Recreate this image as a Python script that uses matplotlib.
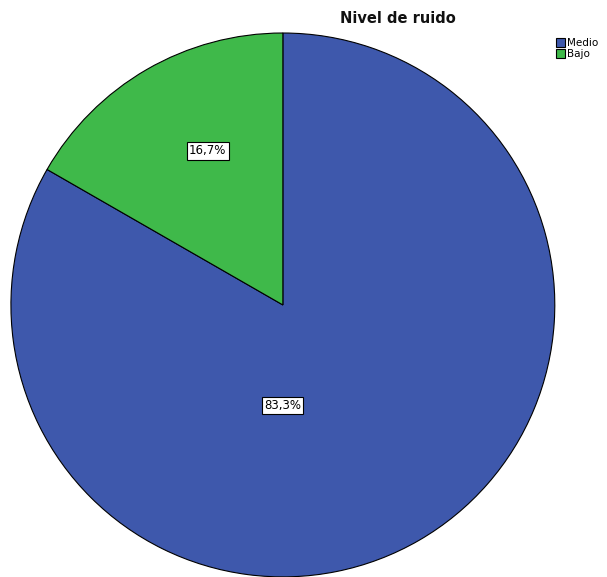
import numpy as np
import matplotlib.pyplot as plt

categorias = ["Medio", "Bajo"]
porcentajes = [83.3, 16.7]
etiquetas = ["83,3%", "16,7%"]
colores = ["#3e58ac", "#3fb94a"]

fig = plt.figure(figsize=(6.07, 5.77), dpi=100)
ax = fig.add_axes([0.018, 0.0, 0.896, 0.943])

wedges, _ = ax.pie(
    porcentajes, colors=colores, startangle=90, counterclock=False,
    radius=1.0, wedgeprops=dict(edgecolor="black", linewidth=0.8),
)
ax.set_xlim(-1, 1)
ax.set_ylim(-1, 1)
ax.set_aspect("equal")

# etiquetas dentro de cada sector
pos_label = [(270, 0.37), (116, 0.63)]
for txt, (ang, r) in zip(etiquetas, pos_label):
    a = np.deg2rad(ang)
    ax.text(r * np.cos(a), r * np.sin(a), txt, ha="center", va="center",
            fontsize=8.5, color="black",
            bbox=dict(facecolor="white", edgecolor="black", linewidth=0.8, pad=1.5))

fig.text(0.655, 0.968, "Nivel de ruido", ha="center", va="center",
         fontsize=10.5, fontweight="semibold", color="#111111")

fig.legend(wedges, categorias, loc="upper left", bbox_to_anchor=(0.905, 0.945),
           frameon=False, fontsize=7.5, handlelength=0.9, handleheight=0.9,
           handletextpad=0.2, labelspacing=0.1, borderpad=0.1)

fig.savefig("out.png", dpi=100)
